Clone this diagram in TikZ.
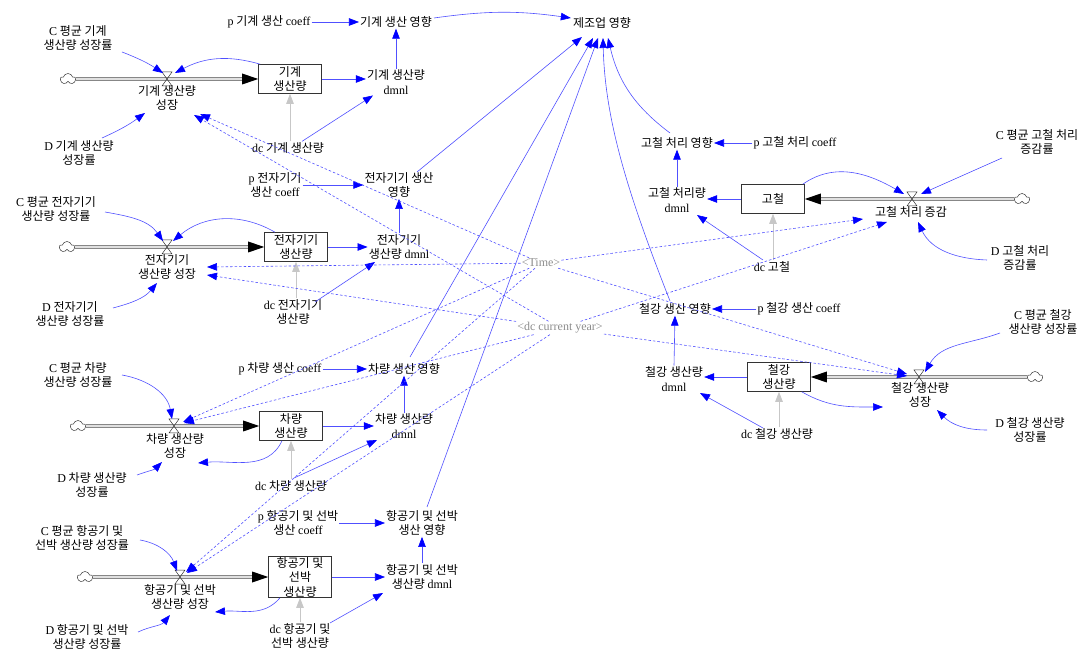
\documentclass[tikz,border=0pt]{standalone}
\usepackage{fontspec}
\setmainfont{Noto Sans CJK KR}
\newfontfamily\latf{Liberation Serif}
\newcommand\Lat[1]{{\latf #1}}
\usetikzlibrary{arrows.meta,calc,shapes.symbols}
\definecolor{lnk}{RGB}{80,80,255}
\definecolor{tipblue}{RGB}{0,0,255}
\newcommand\drawvalve[1]{\draw[black!80,line width=0.5pt] ($(#1)+(-5,-7)$) -- ($(#1)+(5,-7)$) -- ($(#1)+(-5,7)$) -- ($(#1)+(5,7)$) -- cycle;}
\begin{document}
\begin{tikzpicture}[x=1pt,y=-1pt,
 every node/.style={font=\fontsize{12}{14.5}\selectfont},
 lbl/.style={align=center,inner sep=1pt},
 stockbox/.style={draw=black!80,line width=0.6pt,minimum width=63,minimum height=29,align=center,inner sep=0pt,fill=white},
 link/.style={draw=lnk,line width=0.6pt,-{Triangle[length=10pt,width=7.5pt,color=tipblue]}},
 dlink/.style={link,dash pattern=on 2.5pt off 2pt},
 glink/.style={draw=black!22,line width=0.8pt,-{Triangle[length=10pt,width=7.5pt,color=black!22]}},
 pipe/.style={draw=black!80,line width=0.6pt,double=black!12,double distance=2.2pt},
 cloudnode/.style={cloud,draw=black!80,cloud puffs=5,minimum width=15pt,minimum height=11pt,inner sep=0pt,aspect=1.4,line width=0.5pt},
 ghost/.style={lbl,text=black!45},
]
\useasboundingbox (0,0) rectangle (1088,652);

% ---------- nodes ----------
\node[lbl] (mfg) at (602,23) {제조업 영향};
\node[ghost] (time) at (541,263) {\Lat{<Time>}};
\node[ghost] (cur) at (560,328) {\Lat{<dc current year>}};

% machine
\node[lbl] (pM) at (269,22) {\Lat{p} 기계 생산 \Lat{coeff}};
\node[lbl] (effM) at (396,22) {기계 생산 영향};
\node[lbl] (cM) at (78,38) {\Lat{C} 평균 기계\\생산량 성장률};
\node[cloudnode] (cloudM) at (68,79) {};
\coordinate (valveM) at (167,79);
\node[lbl] (flowM) at (167,98) {기계 생산량\\성장};
\node[stockbox] (stockM) at (290,79) {기계\\생산량};
\node[lbl] (dmnlM) at (396,82) {기계 생산량\\\Lat{dmnl}};
\node[lbl] (dcM) at (288,148) {\Lat{dc} 기계 생산량};
\node[lbl] (dM) at (79,153) {\Lat{D} 기계 생산량\\성장률};

% electronics
\node[lbl] (cE) at (56,209) {\Lat{C} 평균 전자기기\\생산량 성장률};
\node[cloudnode] (cloudE) at (67,247) {};
\coordinate (valveE) at (167,247);
\node[lbl] (flowE) at (167,267) {전자기기\\생산량 성장};
\node[stockbox] (stockE) at (296,247) {전자기기\\생산량};
\node[lbl] (dmnlE) at (399,247) {전자기기\\생산량 \Lat{dmnl}};
\node[lbl] (pE) at (275,185) {\Lat{p} 전자기기\\생산 \Lat{coeff}};
\node[lbl] (effE) at (399,185) {전자기기 생산\\영향};
\node[lbl] (dcE) at (293,312) {\Lat{dc} 전자기기\\생산량};
\node[lbl] (dE) at (70,314) {\Lat{D} 전자기기\\생산량 성장률};

% vehicles
\node[lbl] (cV) at (78,375) {\Lat{C} 평균 차량\\생산량 성장률};
\node[cloudnode] (cloudV) at (78,426) {};
\coordinate (valveV) at (174,426);
\node[lbl] (flowV) at (175,446) {차량 생산량\\성장};
\node[stockbox] (stockV) at (291,426) {차량\\생산량};
\node[lbl] (dmnlV) at (404,426) {차량 생산량\\\Lat{dmnl}};
\node[lbl] (pV) at (280,369) {\Lat{p} 차량 생산 \Lat{coeff}};
\node[lbl] (effV) at (404,369) {차량 생산 영향};
\node[lbl] (dcV) at (291,486) {\Lat{dc} 차량 생산량};
\node[lbl] (dV) at (92,485) {\Lat{D} 차량 생산량\\성장률};

% aircraft & ships
\node[lbl] (cA) at (82,538) {\Lat{C} 평균 항공기 및\\선박 생산량 성장률};
\node[cloudnode] (cloudA) at (85,577) {};
\coordinate (valveA) at (180,577);
\node[lbl] (flowA) at (180,597) {항공기 및 선박\\생산량 성장};
\node[stockbox,minimum height=41] (stockA) at (300,577) {항공기 및\\선박\\생산량};
\node[lbl] (dmnlA) at (422,577) {항공기 및 선박\\생산량 \Lat{dmnl}};
\node[lbl] (pA) at (298,523) {\Lat{p} 항공기 및 선박\\생산 \Lat{coeff}};
\node[lbl] (effA) at (422,523) {항공기 및 선박\\생산 영향};
\node[lbl] (dcA) at (300,636) {\Lat{dc} 항공기 및\\선박 생산량};
\node[lbl] (dA) at (87,637) {\Lat{D} 항공기 및 선박\\생산량 성장률};

% scrap
\node[lbl] (effS) at (677,143) {고철 처리 영향};
\node[lbl] (pS) at (795,143) {\Lat{p} 고철 처리 \Lat{coeff}};
\node[lbl] (dmnlS) at (677,200) {고철 처리량\\\Lat{dmnl}};
\node[stockbox] (stockS) at (773,199) {고철};
\coordinate (valveS) at (912,199);
\node[lbl] (flowS) at (911,212) {고철 처리 증감};
\node[cloudnode] (cloudS) at (1022,199) {};
\node[lbl] (cS) at (1037,142) {\Lat{C} 평균 고철 처리\\증감률};
\node[lbl] (dS) at (1020,258) {\Lat{D} 고철 처리\\증감률};
\node[lbl] (dcS) at (772,267) {\Lat{dc} 고철};

% steel
\node[lbl] (effT) at (675,309) {철강 생산 영향};
\node[lbl] (pT) at (799,309) {\Lat{p} 철강 생산 \Lat{coeff}};
\node[lbl] (dmnlT) at (674,379) {철강 생산량\\\Lat{dmnl}};
\node[stockbox] (stockT) at (779,377) {철강\\생산량};
\coordinate (valveT) at (919,377);
\node[lbl] (flowT) at (920,395) {철강 생산량\\성장};
\node[cloudnode] (cloudT) at (1035,377) {};
\node[lbl] (cT) at (1043,322) {\Lat{C} 평균 철강\\생산량 성장률};
\node[lbl] (dT) at (1030,430) {\Lat{D} 철강 생산량\\성장률};
\node[lbl] (dcT) at (777,434) {\Lat{dc} 철강 생산량};

% ---------- pipes ----------
\draw[pipe] (cloudM.east) -- ($(stockM.west)+(-14,0)$);
\fill[black] (stockM.west) -- ++(-16,-5.5) -- ++(0,11) -- cycle;
\draw[pipe] (cloudE.east) -- ($(stockE.west)+(-14,0)$);
\fill[black] (stockE.west) -- ++(-16,-5.5) -- ++(0,11) -- cycle;
\draw[pipe] (cloudV.east) -- ($(stockV.west)+(-14,0)$);
\fill[black] (stockV.west) -- ++(-16,-5.5) -- ++(0,11) -- cycle;
\draw[pipe] (cloudA.east) -- ($(stockA.west)+(-14,0)$);
\fill[black] (stockA.west) -- ++(-16,-5.5) -- ++(0,11) -- cycle;
\draw[pipe] (cloudS.west) -- ($(stockS.east)+(14,0)$);
\fill[black] (stockS.east) -- ++(16,-5.5) -- ++(0,11) -- cycle;
\draw[pipe] (cloudT.west) -- ($(stockT.east)+(14,0)$);
\fill[black] (stockT.east) -- ++(16,-5.5) -- ++(0,11) -- cycle;
\drawvalve{valveM}
\drawvalve{valveE}
\drawvalve{valveV}
\drawvalve{valveA}
\drawvalve{valveS}
\drawvalve{valveT}

% ---------- machine links ----------
\draw[link] (pM.east) -- (effM.west);
\draw[link] ($(effM.east)+(1,-4)$) to[bend left=8] ($(mfg.west)+(-1,-5)$);
\draw[link] (dmnlM.north) -- (effM.south);
\draw[link] (stockM.east) -- (stockM.east -| dmnlM.west);
\draw[glink] (dcM.north -| stockM.south) -- (stockM.south);
\draw[link] ($(dcM.north)+(14,0)$) -- ($(dmnlM.south)+(-23,0)$);
\draw[link] ($(cM)+(44,14)$) to[bend left=6] ($(valveM)+(-4,-6)$);
\draw[link] ($(stockM.north west)+(2,0)$) to[bend right=22] ($(valveM)+(8,-6)$);
\draw[link] ($(dM)+(23,-15)$) to[bend right=6] ($(flowM)+(-22,15)$);

% ---------- electronics links ----------
\draw[link] (pE.east) -- (effE.west);
\draw[link] (dmnlE.north) -- (effE.south);
\draw[link] (stockE.east) -- (stockE.east -| dmnlE.west);
\draw[glink] (dcE.north -| stockE.south) -- (stockE.south);
\draw[link] ($(dcE)+(22,-10)$) -- ($(dmnlE)+(-24,15)$);
\draw[link] ($(cE)+(49,3)$) to[out=-10,in=125] ($(valveE)+(-4,-6)$);
\draw[link] ($(stockE.north)+(-21,0)$) to[bend right=35] ($(valveE)+(6,-6)$);
\draw[link] ($(dE)+(43,-6)$) to[out=15,in=-130] ($(flowE)+(-10,16)$);

% ---------- vehicle links ----------
\draw[link] (pV.east) -- (effV.west);
\draw[link] (dmnlV.north) -- (effV.south);
\draw[link] (stockV.east) -- (stockV.east -| dmnlV.west);
\draw[glink] (dcV.north -| stockV.south) -- (stockV.south);
\draw[link] ($(dcV)+(3,-8)$) -- ($(dmnlV)+(-27,14)$);
\draw[link] ($(cV)+(44,0)$) to[out=-10,in=100] ($(valveV)+(-2,-7)$);
\draw[link] ($(stockV.south)+(-9,0)$) to[out=-115,in=5] ($(flowV)+(23,17)$);
\draw[link] ($(dV)+(45,-10)$) to[out=20,in=-135] ($(flowV)+(-13,16)$);

% ---------- aircraft links ----------
\draw[link] (pA.east) -- (effA.west);
\draw[link] (dmnlA.north) -- (effA.south);
\draw[link] (stockA.east) -- (stockA.east -| dmnlA.west);
\draw[glink] (dcA.north -| stockA.south) -- (stockA.south);
\draw[link] ($(dcA)+(30,-13)$) -- ($(dmnlA)+(-39,16)$);
\draw[link] ($(cA)+(58,2)$) to[out=-10,in=110] ($(valveA)+(-3,-6)$);
\draw[link] ($(stockA.south)+(-20,0)$) to[out=-130,in=5] ($(flowA)+(35,15)$);
\draw[link] ($(dA)+(51,-5)$) to[out=25,in=-130] ($(flowA)+(-10,18)$);

% ---------- scrap links ----------
\draw[link] (pS.west) -- (effS.east);
\draw[link] (dmnlS.north) -- (effS.south);
\draw[link] (stockS.west) -- (stockS.west -| dmnlS.east);
\draw[glink] (dcS.north -| stockS.south) -- (stockS.south);
\draw[link] ($(dcS)+(-9,-7)$) -- ($(dmnlS)+(20,15)$);
\draw[link] ($(stockS.north east)+(-2,0)$) to[out=35,in=150] ($(valveS)+(-8,-5)$);
\draw[link] ($(cS)+(-35,16)$) -- ($(valveS)+(9,-5)$);
\draw[link] ($(dS)+(-33,2)$) to[out=178,in=-65] ($(flowS)+(7,10)$);

% ---------- steel links ----------
\draw[link] (pT.west) -- (effT.east);
\draw[link] (dmnlT.north) -- (effT.south);
\draw[link] (stockT.west) -- (stockT.west -| dmnlT.east);
\draw[glink] (dcT.north -| stockT.south) -- (stockT.south);
\draw[link] ($(dcT)+(-14,-6)$) -- ($(dmnlT)+(26,14)$);
\draw[link] ($(stockT.south east)+(-9,0)$) to[out=-30,in=180] ($(flowT)+(-37,12)$);
\draw[link] ($(cT)+(-43,11)$) to[out=200,in=60] ($(valveT)+(6,-5)$);
\draw[link] ($(dT)+(-43,0)$) to[out=180,in=-45] ($(flowT)+(17,15)$);

% ---------- effects to manufacturing ----------
\draw[link] ($(effE)+(18,-13)$) -- ($(mfg)+(-20,14)$);
\draw[link] ($(effV)+(6,-12)$) -- ($(mfg)+(-9,15)$);
\draw[link] ($(effA)+(5,-16)$) -- ($(mfg)+(-4,15)$);
\draw[link] ($(effT)+(-5,-8)$) .. controls ($(effT)+(-45,-110)$) and ($(mfg)+(3,100)$) .. ($(mfg)+(1,15)$);
\draw[link] ($(effS)+(-7,-10)$) to[bend left=20] ($(mfg)+(6,15)$);

% ---------- time / current year ----------
\draw[dlink] (time) -- ($(flowM)+(33,16)$);
\draw[dlink] (cur) -- ($(flowM)+(27,17)$);
\draw[dlink] (time) -- ($(flowE)+(40,0)$);
\draw[dlink] (cur) -- ($(flowE)+(40,8)$);
\draw[dlink] (time) -- ($(valveV)+(9,-4)$);
\draw[dlink] (cur) -- ($(valveV)+(10,-3)$);
\draw[dlink] (time) -- ($(valveA)+(6,-5)$);
\draw[dlink] (cur) -- ($(valveA)+(7,-4)$);
\draw[dlink] (time) -- ($(flowS)+(-48,7)$);
\draw[dlink] (cur) -- ($(flowS)+(-24,10)$);
\draw[dlink] (time) -- ($(valveT)+(-12,-3)$);
\draw[dlink] (cur) -- ($(valveT)+(-12,-1)$);
\end{tikzpicture}
\end{document}
